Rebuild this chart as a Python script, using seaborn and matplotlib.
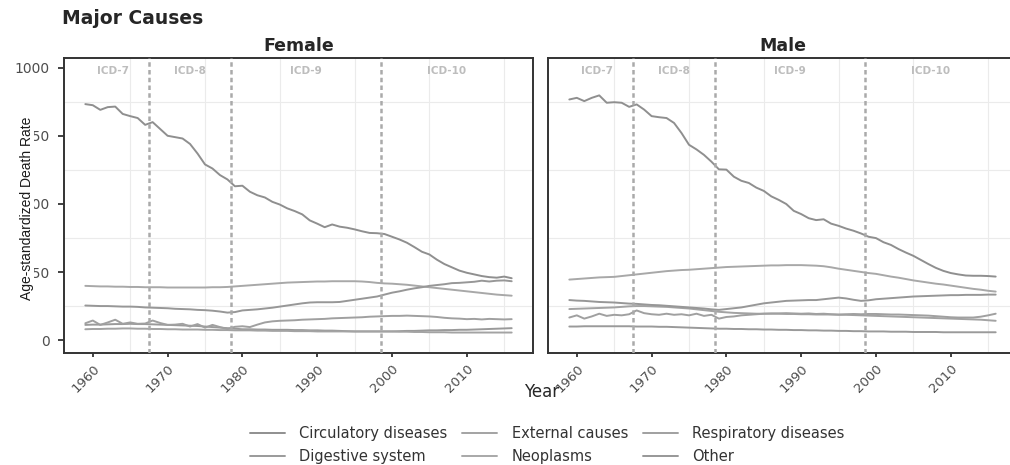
import numpy as np
import pandas as pd
import matplotlib
matplotlib.use("Agg")
import matplotlib.pyplot as plt
import seaborn as sns

# data (annual values 1959-2016)
years = list(range(1959, 2017))
causes = ["Circulatory diseases", "Digestive system", "External causes",
          "Neoplasms", "Respiratory diseases", "Other"]

female_circulatory = [866, 862, 845, 855, 857, 830, 822, 815, 790, 800, 775, 750, 745, 740, 720,
                      685, 645, 630, 606, 590, 565, 567, 545, 532, 524, 508, 498, 484, 474, 462,
                      440, 428, 415, 425, 417, 413, 407, 400, 394, 393, 390, 380, 370, 358, 342,
                      325, 315, 296, 280, 268, 256, 248, 242, 236, 232, 230, 234, 228]
female_digestive = [57, 58, 58, 59, 60, 60, 61, 60, 60, 59, 58, 57, 56, 55, 54, 53, 51, 49, 47, 45,
                    43, 41, 41, 40, 40, 39, 39, 39, 38, 38, 37, 37, 36, 36, 35, 34, 33, 33, 33, 33,
                    33, 33, 34, 35, 35, 36, 37, 37, 38, 38, 39, 39, 40, 41, 42, 43, 44, 45]
female_external = [41, 42, 42, 43, 43, 44, 44, 43, 43, 42, 42, 41, 41, 40, 40, 40, 39, 39, 38, 38,
                   37, 37, 37, 36, 36, 35, 35, 35, 34, 34, 34, 33, 33, 33, 33, 33, 33, 33, 33, 33,
                   33, 33, 32, 32, 31, 31, 30, 30, 30, 29, 29, 29, 29, 29, 29, 29, 29, 29]
female_neoplasms = [200, 199, 198, 198, 197, 197, 196, 196, 195, 195, 195, 194, 194, 194, 194,
                    194, 194, 195, 195, 196, 198, 200, 202, 204, 206, 208, 210, 212, 213, 214,
                    215, 216, 216, 217, 217, 217, 217, 216, 214, 211, 209, 208, 206, 204, 201,
                    198, 195, 192, 189, 186, 183, 180, 177, 174, 171, 168, 166, 164]
female_respiratory = [63, 73, 57, 66, 76, 61, 66, 61, 62, 73, 64, 57, 58, 61, 51, 60, 47, 57, 49,
                      42, 50, 52, 49, 58, 66, 70, 72, 73, 74, 76, 77, 78, 79, 81, 82, 83, 84, 85,
                      87, 88, 89, 90, 90, 91, 90, 89, 88, 86, 83, 81, 80, 78, 79, 77, 79, 78, 77, 78]
female_other = [128, 127, 126, 126, 125, 124, 124, 123, 121, 120, 119, 118, 116, 115, 114, 112,
                111, 109, 106, 102, 104, 110, 112, 114, 117, 120, 124, 128, 132, 136, 139, 140,
                140, 140, 141, 145, 149, 153, 157, 161, 168, 175, 180, 186, 191, 195, 200, 203,
                206, 210, 211, 213, 215, 219, 216, 219, 220, 217]

male_circulatory = [883, 889, 877, 889, 898, 871, 873, 871, 856, 865, 846, 822, 818, 815, 797,
                    760, 717, 700, 680, 655, 627, 626, 600, 585, 577, 560, 548, 528, 515, 500,
                    475, 463, 448, 441, 444, 428, 420, 410, 402, 392, 380, 375, 360, 350, 335,
                    322, 310, 295, 280, 266, 255, 247, 242, 238, 237, 237, 236, 234]
male_digestive = [51, 51, 52, 52, 52, 52, 52, 52, 52, 51, 51, 51, 50, 50, 49, 48, 47, 46, 45, 44,
                  43, 43, 42, 42, 41, 41, 40, 40, 39, 39, 38, 38, 37, 37, 36, 36, 35, 35, 34, 34,
                  33, 33, 33, 32, 32, 32, 31, 31, 31, 31, 30, 30, 30, 30, 30, 30, 30, 30]
male_external = [115, 116, 117, 118, 119, 120, 121, 123, 125, 126, 126, 125, 124, 123, 121, 119,
                 117, 114, 111, 108, 105, 103, 101, 100, 99, 98, 98, 98, 98, 97, 97, 96, 96, 95,
                 95, 95, 94, 94, 93, 92, 91, 90, 89, 88, 87, 86, 85, 84, 83, 82, 81, 80, 79, 78,
                 77, 76, 74, 72]
male_neoplasms = [223, 225, 227, 229, 231, 232, 233, 236, 239, 242, 245, 248, 251, 254, 256, 258,
                  259, 261, 263, 265, 267, 269, 270, 271, 272, 273, 274, 275, 275, 276, 276, 276,
                  275, 274, 272, 268, 263, 259, 255, 251, 247, 244, 239, 234, 230, 225, 220, 216,
                  212, 208, 205, 201, 197, 193, 189, 186, 182, 179]
male_respiratory = [84, 92, 80, 88, 98, 90, 94, 92, 96, 110, 100, 96, 94, 98, 94, 96, 92, 98, 90,
                    94, 80, 86, 88, 92, 94, 96, 98, 99, 99, 100, 99, 98, 99, 97, 98, 96, 95, 96,
                    97, 96, 97, 97, 96, 95, 95, 94, 93, 92, 91, 89, 87, 85, 84, 84, 84, 87, 92, 98]
male_other = [148, 146, 145, 143, 141, 140, 139, 137, 135, 134, 132, 130, 129, 127, 125, 123, 121,
              119, 117, 114, 112, 115, 118, 121, 126, 131, 136, 139, 142, 145, 146, 147, 148, 148,
              151, 154, 157, 154, 149, 145, 147, 151, 153, 155, 157, 159, 161, 162, 163, 164, 165,
              166, 166, 167, 167, 167, 168, 168]

icd_breaks = [1967.5, 1978.5, 1998.5]
icd_labels = ["ICD-7", "ICD-8", "ICD-9", "ICD-10"]
icd_label_x = [1962.75, 1973.0, 1988.5, 2007.25]

series = {
    "Female": [female_circulatory, female_digestive, female_external,
               female_neoplasms, female_respiratory, female_other],
    "Male": [male_circulatory, male_digestive, male_external,
             male_neoplasms, male_respiratory, male_other],
}
rows = []
for sex, vals in series.items():
    for cause, v in zip(causes, vals):
        for yr, r in zip(years, v):
            rows.append((sex, cause, yr, r))
df = pd.DataFrame(rows, columns=["Sex", "Cause", "Year", "Rate"])

palette = dict(zip(causes, ["#8f8f8f", "#9a9a9a", "#a3a3a3", "#a8a8a8", "#a0a0a0", "#979797"]))

sns.set_theme(style="white")
plt.rcParams["font.family"] = ["DejaVu Sans"]

W, H = 1010, 465
fig = plt.figure(figsize=(W / 100, H / 100), dpi=100)


def box(l, t, r, b):
    return [l / W, 1 - b / H, (r - l) / W, (b - t) / H]


ax_f = fig.add_axes(box(64, 58, 533, 353))
ax_m = fig.add_axes(box(548, 58, 1017, 353))  # right panel runs past the edge, as in the reference

for ax, sex in [(ax_f, "Female"), (ax_m, "Male")]:
    sns.lineplot(data=df[df["Sex"] == sex], x="Year", y="Rate", hue="Cause",
                 hue_order=causes, palette=palette, linewidth=1.4, errorbar=None,
                 legend=(sex == "Female"), ax=ax)
    ax.set_xlim(1956.15, 2018.85)
    ax.set_ylim(-46, 1035)
    ax.set_xticks(range(1960, 2011, 10))
    ax.set_xticks(range(1965, 2016, 10), minor=True)
    ax.set_yticks([0, 250, 500, 750, 1000])
    ax.set_yticks([125, 375, 625, 875], minor=True)
    ax.grid(which="major", visible=False)
    ax.grid(which="minor", color="#ebebeb", linewidth=0.8)
    ax.set_axisbelow(True)
    ax.set_xticklabels([str(y) for y in range(1960, 2011, 10)], rotation=45,
                       ha="right", va="top", rotation_mode="anchor")
    ax.tick_params(axis="both", which="major", length=3.2, width=1.3, color="#333333",
                   labelsize=9.5, labelcolor="#4d4d4d", direction="out", bottom=True, left=True)
    ax.tick_params(axis="y", which="major", length=4.3, pad=6, labelsize=10)
    ax.tick_params(which="minor", length=0)
    ax.set_xlabel("")
    ax.set_ylabel("")
    for b in icd_breaks:
        ax.axvline(b, color="#aaaaaa", linewidth=1.8, linestyle=(0, (1.8, 1.3)), zorder=3)
    for lbl, xx in zip(icd_labels, icd_label_x):
        ax.text(xx, 988, lbl, ha="center", va="center", fontsize=7.5,
                color="#bdbdbd", fontweight="bold")
    for s in ax.spines.values():
        s.set_color("#333333")
        s.set_linewidth(1.4)

ax_m.tick_params(axis="y", left=False, labelleft=False)

handles, labels = ax_f.get_legend_handles_labels()
ax_f.get_legend().remove()
fig.legend(handles, labels, loc="center", bbox_to_anchor=(547 / W, 1 - 445 / H), ncol=3,
           frameon=False, fontsize=10.5, handlelength=2.4, handletextpad=1.0,
           columnspacing=1.0, labelspacing=0.55, labelcolor="#333333")

fig.text(62 / W, 1 - 18 / H, "Major Causes", ha="left", va="center",
         fontsize=13.5, fontweight="bold")
fig.text(298.5 / W, 1 - 46 / H, "Female", ha="center", va="center",
         fontsize=12.5, fontweight="bold")
fig.text(782.5 / W, 1 - 46 / H, "Male", ha="center", va="center",
         fontsize=12.5, fontweight="bold")
fig.text(542 / W, 1 - 392 / H, "Year", ha="center", va="center", fontsize=12)
fig.text(27 / W, 1 - 208 / H, "Age-standardized Death Rate", rotation=90,
         ha="center", va="center", fontsize=10, color="#1a1a1a",
         family=["Liberation Sans", "DejaVu Sans"],
         bbox=dict(facecolor="white", edgecolor="none", pad=0))

fig.savefig("out.png", dpi=100)
